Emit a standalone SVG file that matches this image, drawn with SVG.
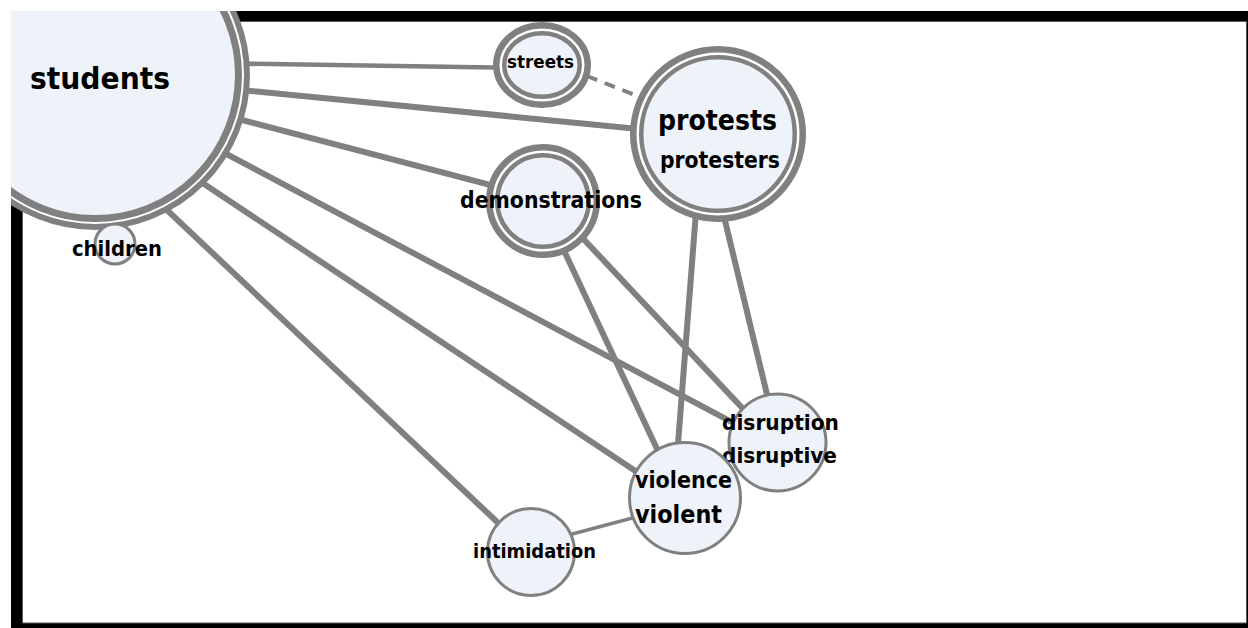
<svg xmlns="http://www.w3.org/2000/svg" width="1248" height="628" viewBox="0 0 1248 628">
  <defs>
    <clipPath id="frameClip"><rect x="11" y="11" width="1237" height="617"/></clipPath>
  </defs>
  <style>
    .edge { stroke: #808080; stroke-linecap: butt; fill: none; }
    .thick { stroke-width: 6; }
    .thin { stroke-width: 4.5; }
    .dash { stroke-width: 4; stroke-dasharray: 11 8; }
    .ring { fill: #ffffff; stroke: #808080; }
    .core { fill: #eef3f9; stroke: #808080; }
    .single { fill: #eef3f9; stroke: #808080; stroke-width: 3; }
    .lbl { font-family: "DejaVu Sans", "Liberation Sans", sans-serif; font-weight: bold; fill: #000; text-anchor: middle; }
  </style>
  <rect x="0" y="0" width="1248" height="628" fill="#ffffff"/>
  <rect x="11" y="11" width="1237" height="617" fill="#000000"/>
  <rect x="22.5" y="21.5" width="1224" height="601.5" fill="#ffffff" stroke="#555555" stroke-width="1"/>
  <g clip-path="url(#frameClip)">
    <g id="connectors">
      <line class="edge thin" x1="200" y1="63" x2="520" y2="68"/>
      <line class="edge thick" x1="200" y1="86" x2="700" y2="135"/>
      <line class="edge thick" x1="200" y1="109" x2="540" y2="198"/>
      <line class="edge thick" x1="200" y1="140" x2="777" y2="446"/>
      <line class="edge thick" x1="180" y1="168" x2="685" y2="504"/>
      <line class="edge thick" x1="150" y1="194" x2="531" y2="554"/>
      <line class="edge dash" x1="587" y1="76" x2="640" y2="97"/>
      <line class="edge thick" x1="545" y1="210" x2="680" y2="498"/>
      <line class="edge thick" x1="560" y1="214" x2="777" y2="445"/>
      <line class="edge thick" x1="700" y1="160" x2="676" y2="470"/>
      <line class="edge thick" x1="720" y1="200" x2="778" y2="440"/>
      <line class="edge" stroke-width="3.5" x1="531" y1="545" x2="685" y2="504"/>
    </g>
    <g id="node-students">
      <circle class="ring" cx="95" cy="75" r="152" stroke-width="6"/>
      <circle class="core" cx="95" cy="75" r="143.5" stroke-width="7"/>
      <text class="lbl" x="100" y="89" font-size="31" textLength="140" lengthAdjust="spacingAndGlyphs">students</text>
    </g>
    <g id="node-children">
      <circle class="single" cx="115" cy="244" r="20"/>
      <text class="lbl" x="117" y="256" font-size="21.5" textLength="90" lengthAdjust="spacingAndGlyphs">children</text>
    </g>
    <g id="node-streets">
      <ellipse class="ring" cx="542" cy="65" rx="45.75" ry="39.75" stroke-width="6.5"/>
      <ellipse class="core" cx="542" cy="65" rx="37.75" ry="31.75" stroke-width="4.5"/>
      <text class="lbl" x="540.5" y="68" font-size="18.5" textLength="67" lengthAdjust="spacingAndGlyphs">streets</text>
    </g>
    <g id="node-protests">
      <circle class="ring" cx="718" cy="134" r="84.75" stroke-width="6.5"/>
      <circle class="core" cx="718" cy="134" r="76.75" stroke-width="4.5"/>
      <text class="lbl" x="717.5" y="130" font-size="28" textLength="119" lengthAdjust="spacingAndGlyphs">protests</text>
      <text class="lbl" x="720" y="168" font-size="22.5" textLength="120" lengthAdjust="spacingAndGlyphs">protesters</text>
    </g>
    <g id="node-demonstrations">
      <circle class="ring" cx="543" cy="201" r="53.75" stroke-width="6.5"/>
      <circle class="core" cx="543" cy="201" r="45.75" stroke-width="4.5"/>
      <text class="lbl" x="551" y="208" font-size="22.5" textLength="182" lengthAdjust="spacingAndGlyphs">demonstrations</text>
    </g>
    <g id="node-disruption">
      <circle class="single" cx="777.5" cy="442.5" r="48.5"/>
      <text class="lbl" x="780.5" y="430" font-size="22" textLength="117" lengthAdjust="spacingAndGlyphs">disruption</text>
      <text class="lbl" x="779.5" y="463" font-size="22" textLength="115" lengthAdjust="spacingAndGlyphs">disruptive</text>
    </g>
    <g id="node-violence">
      <circle class="single" cx="685" cy="498" r="55.5"/>
      <text class="lbl" x="683.5" y="488" font-size="23" textLength="97" lengthAdjust="spacingAndGlyphs">violence</text>
      <text class="lbl" x="678.5" y="523" font-size="24.5" textLength="87" lengthAdjust="spacingAndGlyphs">violent</text>
    </g>
    <g id="node-intimidation">
      <circle class="single" cx="531" cy="552" r="43.5"/>
      <text class="lbl" x="534.5" y="558" font-size="19.5" textLength="123" lengthAdjust="spacingAndGlyphs">intimidation</text>
    </g>
  </g>
</svg>
